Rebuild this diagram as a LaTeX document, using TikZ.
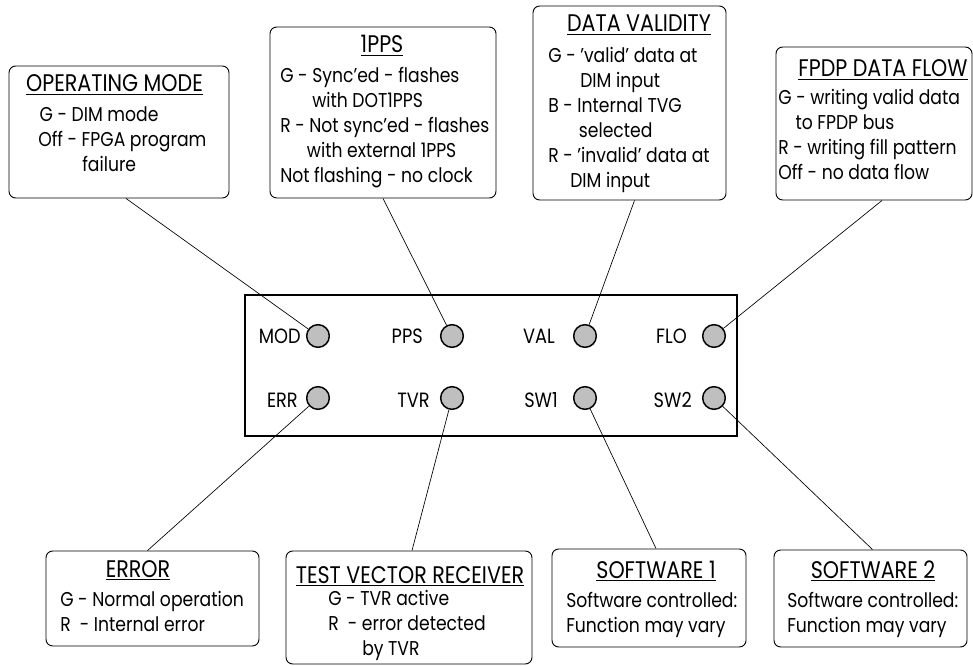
\documentclass[tikz,border=0pt]{standalone}
\usepackage{fontspec}
\setmainfont{Poppins}[FakeStretch=0.86]
\usetikzlibrary{calc}
\usetikzlibrary{fit}

\tikzset{
  infobox/.style={draw, rounded corners=5pt, line width=0.7pt, inner sep=0pt},
  panelbox/.style={draw, line width=0.8pt, inner sep=0pt},
  led/.style={draw, circle, fill=black!25, line width=1.1pt, minimum size=17pt, inner sep=0pt},
  ledlabel/.style={anchor=base east, inner sep=0pt, font=\fontsize{15.5}{18}\selectfont},
  boxtitle/.style={anchor=base, inner sep=0pt, font=\fontsize{18}{21}\selectfont},
  boxbody/.style={anchor=base west, inner sep=0pt, align=left, font=\fontsize{15}{18.75}\selectfont},
  wire/.style={line width=0.5pt}
}

\begin{document}
\begin{tikzpicture}[x=0.75pt, y=-0.75pt]
  \useasboundingbox (0,0) rectangle (973,666);

  % front panel with the eight leds
  \node[panelbox, fit={(245,295) (737,436)}] (panel) {};

  \node[led] (modled) at (318,336) {};
  \node[led] (ppsled) at (452,336) {};
  \node[led] (valled) at (585,336) {};
  \node[led] (floled) at (714,336) {};
  \node[led] (errled) at (318,398) {};
  \node[led] (tvrled) at (452,398) {};
  \node[led] (swaled) at (585,398) {};
  \node[led] (swbled) at (714,398) {};

  \node[ledlabel] (modlbl) at (301,343) {MOD};
  \node[ledlabel] (ppslbl) at (423,343) {PPS};
  \node[ledlabel] (vallbl) at (555,343) {VAL};
  \node[ledlabel] (flolbl) at (687,343) {FLO};
  \node[ledlabel] (errlbl) at (298,407) {ERR};
  \node[ledlabel] (tvrlbl) at (430,407) {TVR};
  \node[ledlabel] (swalbl) at (558,407) {SW1};
  \node[ledlabel] (swblbl) at (692,407) {SW2};

  % top row of boxes (body text sits on the baseline of its last line)
  \node[infobox, fit={(9,66) (229,198)}] (opmode) {};
  \node[boxtitle] (opmodetitle) at (114.5,92) {\underline{OPERATING MODE}};
  \node[boxbody] (opmodetext) at (38,172) {\hspace*{1pt}G - DIM mode\\Off - FPGA program\\\hspace*{33pt}failure};

  \node[infobox, fit={(270,27) (496,198)}] (ppsbox) {};
  \node[boxtitle] (ppstitle) at (382,53) {\underline{1PPS}};
  \node[boxbody] (ppstext) at (280,183) {G - Sync'ed - flashes\\\hspace*{24pt}with DOT1PPS\\R - Not sync'ed - flashes\\\hspace*{20pt}with external 1PPS\\Not flashing - no clock};

  \node[infobox, fit={(533,6) (726,200)}] (valbox) {};
  \node[boxtitle] (valtitle) at (639,32) {\underline{DATA VALIDITY}};
  \node[boxbody] (valtext) at (548,188) {G - 'valid' data at\\\hspace*{24pt}DIM input\\B - Internal TVG\\\hspace*{23pt}selected\\R - 'invalid' data at\\\hspace*{16.5pt}DIM input};

  \node[infobox, fit={(776,47) (972,200)}] (flobox) {};
  \node[boxtitle] (flotitle) at (883,77) {\underline{FPDP DATA FLOW}};
  \node[boxbody] (flotext) at (778,180) {G - writing valid data\\\hspace*{13pt}to FPDP bus\\R - writing fill pattern\\Off - no data flow};

  % bottom row of boxes
  \node[infobox, fit={(46,551) (259,646)}] (errbox) {};
  \node[boxtitle] (errtitle) at (138,577) {\underline{ERROR}};
  \node[boxbody] (errtext) at (60,631) {G - Normal operation\\R\ \ - Internal error};

  \node[infobox, fit={(286,551) (532,664)}] (tvrbox) {};
  \node[boxtitle] (tvrtitle) at (410,583) {\underline{TEST VECTOR RECEIVER}};
  \node[boxbody] (tvrtext) at (328,655) {G - TVR active\\R\ \ - error detected\\\hspace*{25.5pt}by TVR};

  \node[infobox, fit={(552,549) (746,647)}] (swabox) {};
  \node[boxtitle] (swatitle) at (656,578) {\underline{SOFTWARE 1}};
  \node[boxbody] (swatext) at (566,632) {Software controlled:\\Function may vary};

  \node[infobox, fit={(774,550) (967,647)}] (swbbox) {};
  \node[boxtitle] (swbtitle) at (873,578) {\underline{SOFTWARE 2}};
  \node[boxbody] (swbtext) at (787,632) {Software controlled:\\Function may vary};

  % leader lines
  \draw[wire] ($(opmode.south)+(7,0)$) -- (modled);
  \draw[wire] (ppsbox.south) -- (ppsled);
  \draw[wire] ($(valbox.south)+(5,0)$) -- (valled);
  \draw[wire] ($(flobox.south)+(8,0)$) -- (floled);
  \draw[wire] ($(errbox.north)+(-5,0)$) -- (errled);
  \draw[wire] ($(tvrbox.north)+(3,0)$) -- (tvrled);
  \draw[wire] ($(swabox.north)+(7,0)$) -- (swaled);
  \draw[wire] ($(swbbox.north)+(2,0)$) -- (swbled);
\end{tikzpicture}
\end{document}
